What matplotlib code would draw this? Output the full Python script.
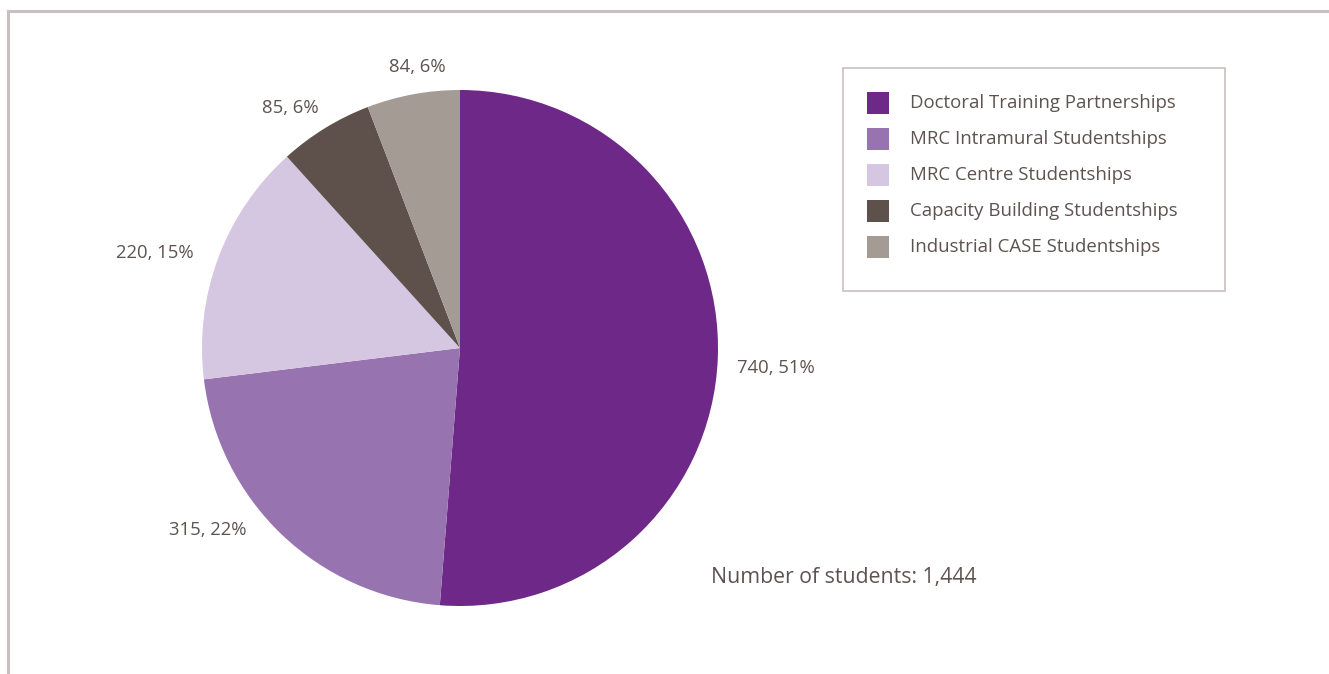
import matplotlib
matplotlib.use("Agg")
import matplotlib.pyplot as plt
from matplotlib.patches import Rectangle
from matplotlib.lines import Line2D

# Studentship numbers by scheme
categories = [
    "Doctoral Training Partnerships",
    "MRC Intramural Studentships",
    "MRC Centre Studentships",
    "Capacity Building Studentships",
    "Industrial CASE Studentships",
]
students = [740, 315, 220, 85, 84]
percent = [51, 22, 15, 6, 6]
colors = ["#6d2888", "#9773b0", "#d5c7e1", "#5e514c", "#a59b95"]

# label centres relative to the pie centre (pixels)
label_offsets = [(316, -20), (-252, -182), (-305, 95), (-170, 240), (-43, 281)]

text_color = "#5d5350"
frame_color = "#c8c0bf"
plt.rcParams["font.family"] = ["Open Sans", "DejaVu Sans"]

W, H = 1329, 674
fig = plt.figure(figsize=(W / 100, H / 100), dpi=100)
ax = fig.add_axes([0, 0, 1, 1])
ax.set_xlim(0, W)
ax.set_ylim(0, H)
ax.set_axis_off()

# outer frame: top and left rules
ax.add_line(Line2D([8, W], [H - 11, H - 11], color=frame_color, lw=2.2))
ax.add_line(Line2D([8, 8], [0, H - 11], color=frame_color, lw=2.2))

cx, cy, r = 460, H - 348, 258
ax.pie(students, colors=colors, startangle=90, counterclock=False,
       center=(cx, cy), radius=r, frame=False,
       wedgeprops=dict(linewidth=0))
ax.set_xlim(0, W)
ax.set_ylim(0, H)
ax.set_aspect("equal")

for n, p, (dx, dy) in zip(students, percent, label_offsets):
    ax.text(cx + dx, cy + dy, f"{n}, {p}%", ha="center", va="center",
            fontsize=13.3, color=text_color)

# legend box
lx0, ly0, lx1, ly1 = 843, H - 291, 1225, H - 68
ax.add_patch(Rectangle((lx0, ly0), lx1 - lx0, ly1 - ly0, fill=False,
                       edgecolor=frame_color, lw=1.2))
for i, (name, c) in enumerate(zip(categories, colors)):
    yc = H - (103 + 36 * i)
    ax.add_patch(Rectangle((867, yc - 11), 22, 22, facecolor=c, edgecolor="none"))
    ax.text(910, yc, name, ha="left", va="center", fontsize=13.4, color=text_color)

ax.text(711, H - 578, f"Number of students: {sum(students):,}", ha="left",
        va="center", fontsize=15.3, color=text_color)

fig.savefig("out.png", dpi=100)
